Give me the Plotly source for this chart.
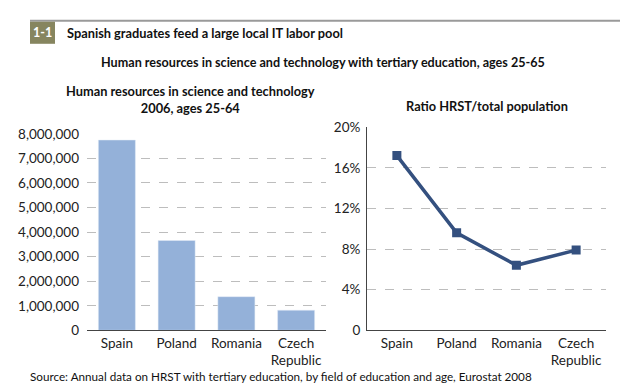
import plotly.graph_objects as go

countries = ["Spain", "Poland", "Romania", "Czech<br>Republic"]
hrst_2006 = [7750000, 3660000, 1370000, 820000]
ratio_pct = [17.2, 9.6, 6.4, 7.9]
pct_ticks = [0, 4, 8, 12, 16, 20]
pct_labels = ["0", "4%", "8%", "12%", "16%", "20%"]

W, H = 640, 384
FONT = "Lato"

def px(x):
    return x / W

def py(y):
    return 1 - y / H

fig = go.Figure()
fig.add_trace(go.Bar(x=countries, y=hrst_2006, marker_color="#94b1d9",
                     xaxis="x", yaxis="y", showlegend=False))
fig.add_trace(go.Scatter(x=countries, y=ratio_pct, mode="lines+markers",
                         line=dict(color="#34507f", width=3.5),
                         marker=dict(symbol="square", size=9, color="#34507f"),
                         xaxis="x2", yaxis="y2", showlegend=False))

axfont = dict(family=FONT, size=13.5, color="#222")
fig.update_layout(
    width=W, height=H, margin=dict(l=0, r=0, t=0, b=0),
    paper_bgcolor="white", plot_bgcolor="white",
    font=dict(family=FONT, size=12, color="#111"),
    bargap=0.38,
    xaxis=dict(domain=[px(79), px(318)], showline=True, linecolor="#444", linewidth=1,
               ticks="", tickfont=axfont, showgrid=False, ticklabelstandoff=0),
    yaxis=dict(domain=[py(328), py(123)], range=[0, 8000000], tickvals=[0, 1e6, 2e6, 3e6, 4e6, 5e6, 6e6, 7e6, 8e6],
               tickformat=",d", showgrid=True, gridcolor="#bdbdbd", griddash="dash", gridwidth=1,
               zeroline=False, showline=False, ticks="", ticklabelstandoff=7, tickfont=axfont),
    xaxis2=dict(domain=[px(359), px(598)], anchor="y2", showline=True, linecolor="#444", linewidth=1,
                ticks="", tickfont=axfont, showgrid=False, range=[-0.5, 3.5], ticklabelstandoff=0),
    yaxis2=dict(domain=[py(328), py(116)], anchor="x2", range=[0, 20], tickvals=pct_ticks, ticktext=pct_labels,
                showgrid=True, gridcolor="#bdbdbd", griddash="dash", gridwidth=1,
                zeroline=False, showline=True, linecolor="#444", linewidth=1, ticks="",
                ticklabelstandoff=3, tickfont=axfont),
)

shapes = [
    dict(type="line", xref="paper", yref="paper", x0=px(22), x1=px(612), y0=py(5), y1=py(5),
         line=dict(color="#9a9a9a", width=2)),
    dict(type="rect", xref="paper", yref="paper", x0=px(22), x1=px(47), y0=py(29), y1=py(6),
         fillcolor="#86855f", line=dict(width=0)),
]
fig.update_layout(shapes=shapes)

ann = [
    dict(text="<b>1-1</b>", x=px(34.5), y=py(17.5), xanchor="center", yanchor="middle",
         font=dict(family=FONT, size=12.5, color="white")),
    dict(text="<b>Spanish graduates feed a large local IT labor pool</b>", x=px(57), y=py(17.5),
         xanchor="left", yanchor="middle", font=dict(family=FONT, size=12.8, color="#111")),
    dict(text="<b>Human resources in science and technology with tertiary education, ages 25-65</b>",
         x=px(315), y=py(48), xanchor="center", yanchor="middle", font=dict(family=FONT, size=12.6, color="#111")),
    dict(text="<b>Human resources in science and technology<br>2006, ages 25-64</b>",
         x=px(182), y=py(87), xanchor="center", yanchor="middle", font=dict(family=FONT, size=12.8, color="#111")),
    dict(text="<b>Ratio HRST/total population</b>",
         x=px(479), y=py(94), xanchor="center", yanchor="middle", font=dict(family=FONT, size=12.8, color="#111")),
    dict(text="Source: Annual data on HRST with tertiary education, by field of education and age, Eurostat 2008",
         x=px(20), y=py(376), xanchor="left", yanchor="middle", font=dict(family=FONT, size=11.7, color="#111")),
]
for a in ann:
    a.update(xref="paper", yref="paper", showarrow=False)
fig.update_layout(annotations=ann)

fig.write_html("out.html")
